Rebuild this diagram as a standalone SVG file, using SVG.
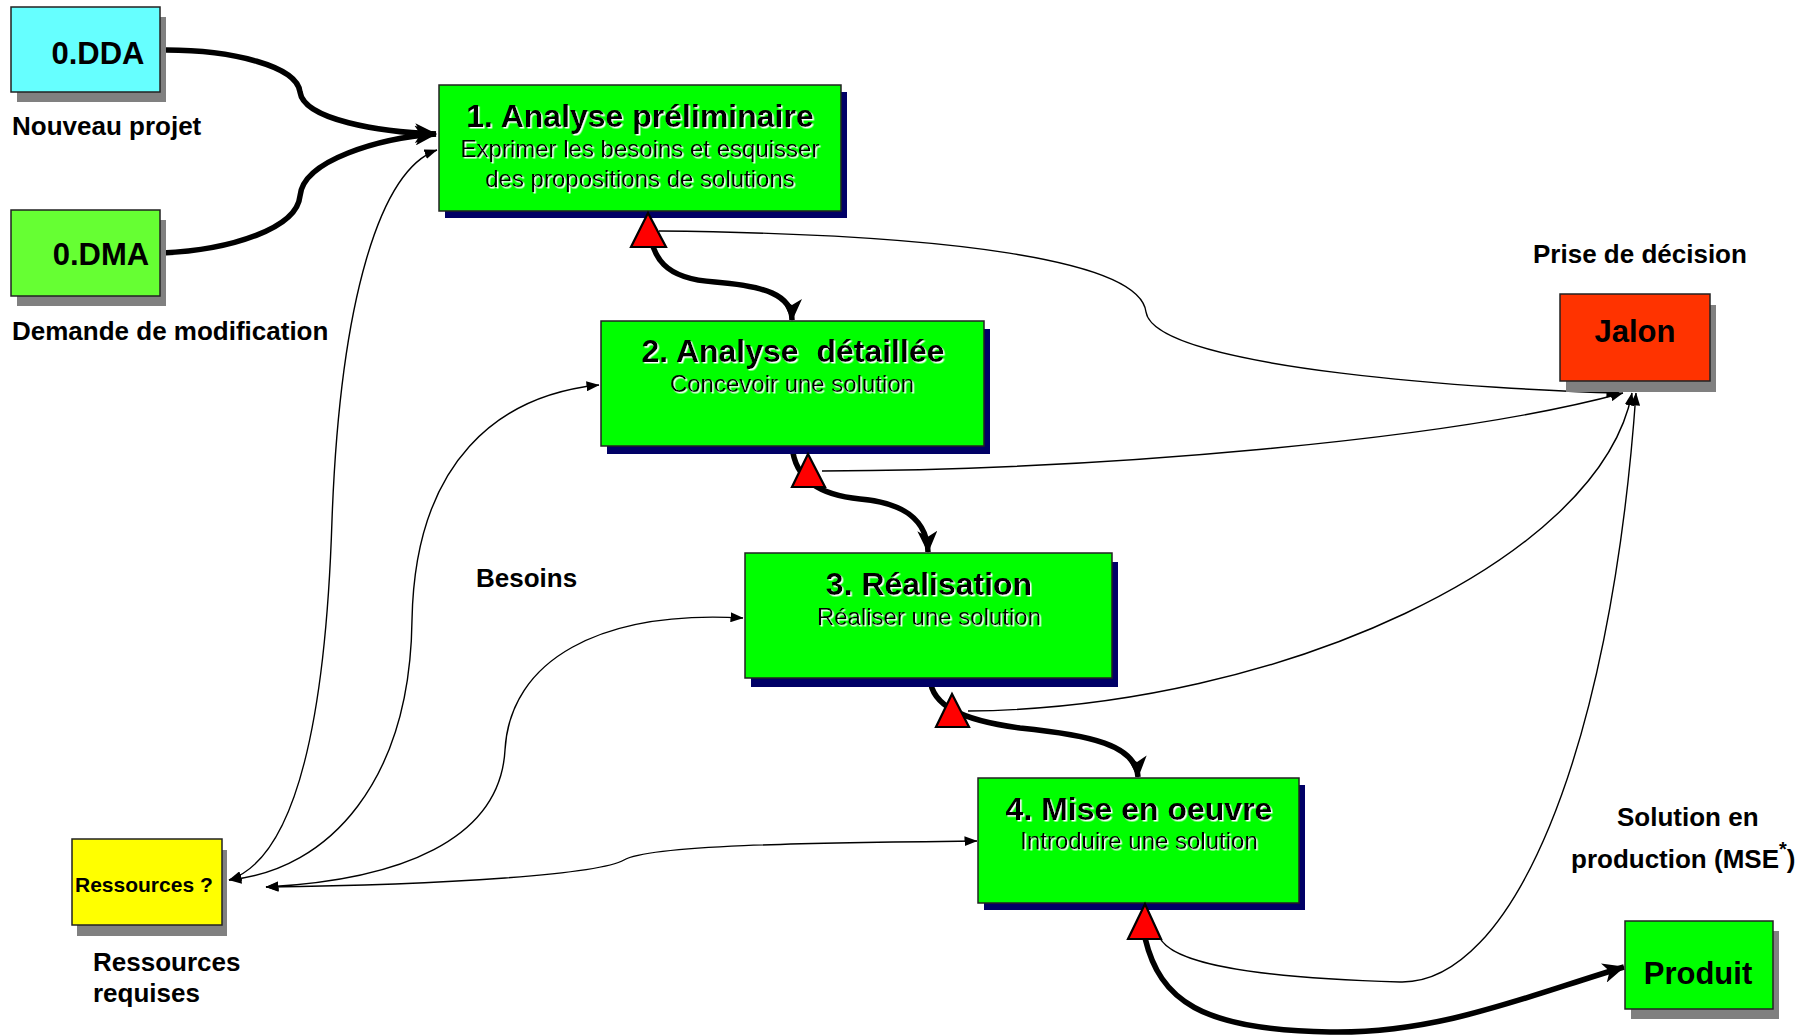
<svg xmlns="http://www.w3.org/2000/svg" width="1812" height="1035" viewBox="0 0 1812 1035">
<style>
.bg{fill:#fff}
.thick{fill:none;stroke:#000;stroke-width:5.5;stroke-linecap:butt}
.thin{fill:none;stroke:#000;stroke-width:1.4}
.box{stroke:#222;stroke-width:1.5}
.proc{fill:#00FF00}
.navy{fill:#000066}
.gray{fill:#808080}
.tri{fill:#FF0000;stroke:#000;stroke-width:2.2;stroke-linejoin:miter}
.lbl{font-family:"Liberation Sans",Arial,sans-serif;font-weight:bold;font-size:26px;fill:#000}
.big{font-size:31px;text-anchor:middle}
.small{font-size:21px}
.ttl{font-family:"Liberation Sans",Arial,sans-serif;font-weight:bold;font-size:32px;fill:#000;text-anchor:middle}
.sub{font-family:"Liberation Sans",Arial,sans-serif;font-size:24px;fill:#000;text-anchor:middle}
.ts{filter:url(#wshadow)}
</style>
<defs>
<filter id="wshadow" x="-5%" y="-20%" width="110%" height="140%">
<feDropShadow dx="1.5" dy="1.5" stdDeviation="0" flood-color="#ffffff" flood-opacity="1"/>
</filter>
<marker id="big" viewBox="0 0 22 20" refX="21" refY="10" markerWidth="22" markerHeight="20" markerUnits="userSpaceOnUse" orient="auto">
<path d="M0,0 L22,10 L0,20 L6,10 z" fill="#000"/>
</marker>
<marker id="sm" viewBox="0 0 13 10" refX="12.5" refY="5" markerWidth="13" markerHeight="10" markerUnits="userSpaceOnUse" orient="auto-start-reverse">
<path d="M0,0 L13,5 L0,10 z" fill="#000"/>
</marker>
</defs>
<rect class="bg" x="0" y="0" width="1812" height="1035"/>

<g id="connectors">
<path class="thick" d="M166,50 C232,50 297,66 300,92 C304,120 380,132 436,134" marker-end="url(#big)"/>
<path class="thick" d="M162,253 C232,250 297,228 300,196 C303,160 380,138 436,134" marker-end="url(#big)"/>
<path class="thick" d="M648,212 C648,262 668,279 715,282 C765,286 792,295 792,320" marker-end="url(#big)"/>
<path class="thick" d="M792,446 C795,480 820,495 860,499 C905,503 927,520 928,552" marker-end="url(#big)"/>
<path class="thick" d="M930,679 C932,705 960,720 1020,728 C1090,735 1136,745 1138,777" marker-end="url(#big)"/>
<path class="thick" d="M1145,938 C1160,1000 1200,1030 1330,1032 C1440,1034 1530,995 1624,967" marker-end="url(#big)"/>
<path class="thin" d="M659,231 C950,234 1140,260 1146,312 C1155,370 1500,390 1619,393" marker-end="url(#sm)"/>
<path class="thin" d="M822,471 C1100,470 1450,440 1623,393" marker-end="url(#sm)"/>
<path class="thin" d="M968,711 C1280,708 1600,560 1632,393" marker-end="url(#sm)"/>
<path class="thin" d="M1159,936 C1170,965 1260,978 1400,982 C1510,985 1610,760 1636,393" marker-end="url(#sm)"/>
<path class="thin" d="M437,150 C380,170 340,300 332,520 C325,740 290,860 229,880" marker-start="url(#sm)" marker-end="url(#sm)"/>
<path class="thin" d="M599,385 C500,395 415,460 412,620 C410,780 330,870 229,880" marker-start="url(#sm)" marker-end="url(#sm)"/>
<path class="thin" d="M743,618 C600,610 510,660 505,750 C500,840 400,880 266,887" marker-start="url(#sm)" marker-end="url(#sm)"/>
<path class="thin" d="M977,841 C800,843 650,845 624,860 C600,874 450,885 266,887" marker-start="url(#sm)" marker-end="url(#sm)"/>
</g>

<g id="node-dda">
<rect class="gray" x="17" y="17" width="149" height="85"/>
<rect class="box" x="11" y="7" width="149" height="85" fill="#66FFFF"/>
<text class="lbl big" x="98" y="64">0.DDA</text>
</g>
<text class="lbl" x="12" y="135">Nouveau projet</text>

<g id="node-dma">
<rect class="gray" x="17" y="220" width="149" height="86"/>
<rect class="box" x="11" y="210" width="149" height="86" fill="#66FF33"/>
<text class="lbl big" x="101" y="265">0.DMA</text>
</g>
<text class="lbl" x="12" y="340">Demande de modification</text>

<g id="node-1">
<rect class="navy" x="445" y="92" width="402" height="126"/>
<rect class="box proc" x="439" y="85" width="402" height="126"/>
<text class="ttl ts" x="640" y="127">1. Analyse préliminaire</text>
<text class="sub ts" x="640" y="157">Exprimer les besoins et esquisser</text>
<text class="sub ts" x="640" y="187">des propositions de solutions</text>
</g>

<g id="node-2">
<rect class="navy" x="607" y="329" width="383" height="125"/>
<rect class="box proc" x="601" y="321" width="383" height="125"/>
<text class="ttl ts" x="793" y="362" xml:space="preserve">2. Analyse  détaillée</text>
<text class="sub ts" x="792" y="392">Concevoir une solution</text>
</g>

<g id="node-3">
<rect class="navy" x="751" y="562" width="367" height="125"/>
<rect class="box proc" x="745" y="553" width="367" height="125"/>
<text class="ttl ts" x="929" y="595">3. Réalisation</text>
<text class="sub ts" x="929" y="625">Réaliser une solution</text>
</g>

<g id="node-4">
<rect class="navy" x="984" y="785" width="321" height="125"/>
<rect class="box proc" x="978" y="778" width="321" height="125"/>
<text class="ttl ts" x="1139" y="820">4. Mise en oeuvre</text>
<text class="sub ts" x="1139" y="849">Introduire une solution</text>
</g>

<g id="node-jalon">
<rect class="gray" x="1566" y="305" width="150" height="87"/>
<rect class="box" x="1560" y="294" width="150" height="87" fill="#FF3300" stroke="#400"/>
<text class="lbl big" x="1635" y="342">Jalon</text>
</g>
<text class="lbl" x="1533" y="263">Prise de décision</text>

<g id="node-ressources">
<rect class="gray" x="77" y="850" width="150" height="86"/>
<rect class="box" x="72" y="839" width="150" height="86" fill="#FFFF00"/>
<text class="lbl small" x="75" y="892">Ressources ?</text>
</g>
<text class="lbl" x="93" y="971">Ressources</text>
<text class="lbl" x="93" y="1002">requises</text>

<g id="node-produit">
<rect class="gray" x="1631" y="931" width="148" height="88"/>
<rect class="box proc" x="1625" y="921" width="148" height="88"/>
<text class="lbl big" x="1698" y="984">Produit</text>
</g>
<text class="lbl" x="1617" y="826">Solution en</text>
<text class="lbl" x="1571" y="868">production (MSE<tspan style="font-size:20px" dy="-12">*</tspan><tspan dy="12">)</tspan></text>

<text class="lbl" x="476" y="587">Besoins</text>

<g id="milestones">
<polygon class="tri" points="648,213 631,247 666,247"/>
<polygon class="tri" points="808,454 792,487 825,487"/>
<polygon class="tri" points="952,694 936,727 969,727"/>
<polygon class="tri" points="1145,904 1128,939 1161,939"/>
</g>
</svg>
